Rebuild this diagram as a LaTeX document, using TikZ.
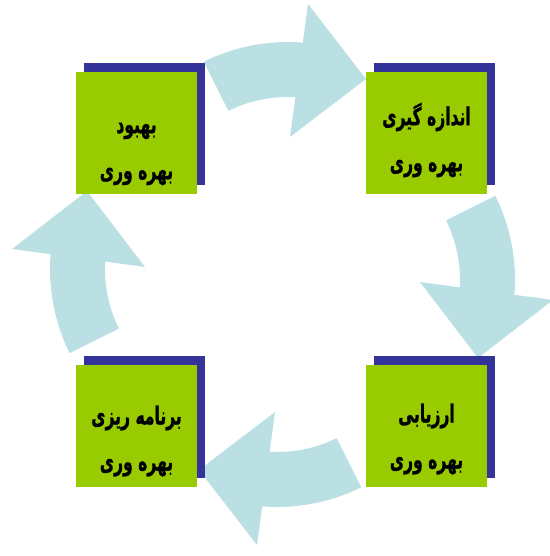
\documentclass[tikz,border=0pt]{standalone}
\usepackage{fontspec}
\TeXXeTstate=1
\newfontfamily\arabicfont[Script=Arabic, BoldFeatures={FakeBold=1.3}]{DejaVu Sans}
\definecolor{boxgreen}{RGB}{153,204,0}
\definecolor{shadowblue}{RGB}{51,51,153}
\definecolor{arrowblue}{RGB}{187,224,227}

\begin{document}
\begin{tikzpicture}[x=1pt,y=1pt,
  greenbox/.style={fill=boxgreen, draw=none, inner sep=0pt,
                   minimum width=121pt, minimum height=122pt},
  backbox/.style={fill=shadowblue, draw=none, inner sep=0pt,
                  minimum width=121pt, minimum height=122pt},
  boxtext/.style={align=center, inner sep=0pt, xscale=0.82, yscale=1.3,
                  transform shape,
                  font=\arabicfont\bfseries\fontsize{19}{35.4}\selectfont},
  cyclearrow/.style={fill=arrowblue, draw=none}]

\useasboundingbox (0,0) rectangle (549,-556);

% four curved arrows, one turned around the centre of the cycle
\foreach \ang in {0,-90,-180,-270}{
  \begin{scope}[rotate around={\ang:(282.5,-274.5)}]
    \fill[cyclearrow]
      ([shift={(288,-232)}]116.3:190)
        arc[start angle=116.3, end angle=85.54, radius=190]
      -- (308,-4) -- (366,-79) -- (290,-137)
      -- ([shift={(288,-232)}]86.86:135)
        arc[start angle=86.86, end angle=116.2, radius=135]
      -- cycle;
  \end{scope}
}

% shadows behind the boxes
\node[backbox] (tlb) at (144,-124) {};
\node[backbox] (trb) at (434,-124) {};
\node[backbox] (blb) at (144,-416.5) {};
\node[backbox] (brb) at (434,-416.5) {};

% green boxes
\node[greenbox] (tl) at (136.5,-133) {};
\node[greenbox] (tr) at (426.5,-133) {};
\node[greenbox] (bl) at (136.5,-426) {};
\node[greenbox] (br) at (426.5,-426) {};

% labels
\node[boxtext] (tlt) at ([yshift=-21pt]tl.center)
  {\beginR بهبود\endR\\\beginR بهره وری\endR};
\node[boxtext] (trt) at ([yshift=-7pt]tr.center)
  {\beginR اندازه گیری\endR\\\beginR بهره وری\endR};
\node[boxtext] (blt) at ([yshift=-15pt]bl.center)
  {\beginR برنامه ریزی\endR\\\beginR بهره وری\endR};
\node[boxtext] (brt) at ([yshift=-13pt]br.center)
  {\beginR ارزیابی\endR\\\beginR بهره وری\endR};
\end{tikzpicture}
\end{document}
